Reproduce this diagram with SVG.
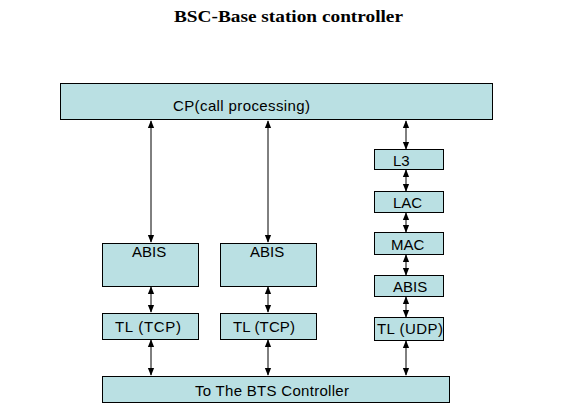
<svg xmlns="http://www.w3.org/2000/svg" width="580" height="405" viewBox="0 0 580 405">
<style>
.box{fill:#bae0e3;stroke:#000;stroke-width:1}
.t{font-family:"Liberation Sans",Arial,sans-serif;font-size:15px;fill:#000}
.ln{stroke:#000;stroke-width:1;fill:none;marker-start:url(#a);marker-end:url(#a)}
</style>
<defs>
<marker id="a" viewBox="0 0 10 10" refX="9" refY="5" markerWidth="8" markerHeight="8" markerUnits="userSpaceOnUse" orient="auto-start-reverse">
<path d="M0,1 L10,5 L0,9 z" fill="#000"/>
</marker>
</defs>
<rect width="580" height="405" fill="#fff"/>
<text x="174" y="22" textLength="229" lengthAdjust="spacingAndGlyphs" font-family="'Liberation Serif','Times New Roman',serif" font-weight="bold" font-size="16">BSC-Base station controller</text>
<g id="connectors">
<line class="ln" x1="151" y1="121" x2="151" y2="242"/>
<line class="ln" x1="268" y1="121" x2="268" y2="242"/>
<line class="ln" x1="406" y1="121" x2="406" y2="149"/>
<line class="ln" x1="406" y1="170" x2="406" y2="191"/>
<line class="ln" x1="406" y1="213" x2="406" y2="232"/>
<line class="ln" x1="406" y1="255" x2="406" y2="275"/>
<line class="ln" x1="406" y1="297" x2="406" y2="317"/>
<line class="ln" x1="406" y1="341" x2="406" y2="375"/>
<line class="ln" x1="151" y1="287" x2="151" y2="312"/>
<line class="ln" x1="268" y1="287" x2="268" y2="312"/>
<line class="ln" x1="151" y1="340" x2="151" y2="375"/>
<line class="ln" x1="268" y1="340" x2="268" y2="375"/>
</g>
<g id="cp"><rect class="box" x="60.5" y="83.5" width="432" height="36"/><text class="t" x="173" y="111" textLength="137">CP(call processing)</text></g>
<g id="abis1"><rect class="box" x="102.5" y="243.5" width="96" height="43"/><text class="t" x="132" y="257">ABIS</text></g>
<g id="abis2"><rect class="box" x="220.5" y="243.5" width="96" height="43"/><text class="t" x="250" y="257">ABIS</text></g>
<g id="tcp1"><rect class="box" x="102.5" y="313.5" width="96" height="26"/><text class="t" x="115" y="332" textLength="66">TL (TCP)</text></g>
<g id="tcp2"><rect class="box" x="220.5" y="313.5" width="96" height="26"/><text class="t" x="233" y="332" textLength="62">TL (TCP)</text></g>
<g id="l3"><rect class="box" x="374.5" y="149.5" width="69" height="20"/><text class="t" x="393" y="166">L3</text></g>
<g id="lac"><rect class="box" x="374.5" y="191.5" width="69" height="21"/><text class="t" x="393" y="208">LAC</text></g>
<g id="mac"><rect class="box" x="374.5" y="232.5" width="69" height="22"/><text class="t" x="391" y="250">MAC</text></g>
<g id="abis3"><rect class="box" x="374.5" y="275.5" width="69" height="21"/><text class="t" x="393" y="292">ABIS</text></g>
<g id="udp"><rect class="box" x="374.5" y="317.5" width="69" height="23"/><text class="t" x="377" y="334" textLength="66">TL (UDP)</text></g>
<g id="bts"><rect class="box" x="102.5" y="376.5" width="347" height="26"/><text class="t" x="195" y="396" textLength="154">To The BTS Controller</text></g>
</svg>
